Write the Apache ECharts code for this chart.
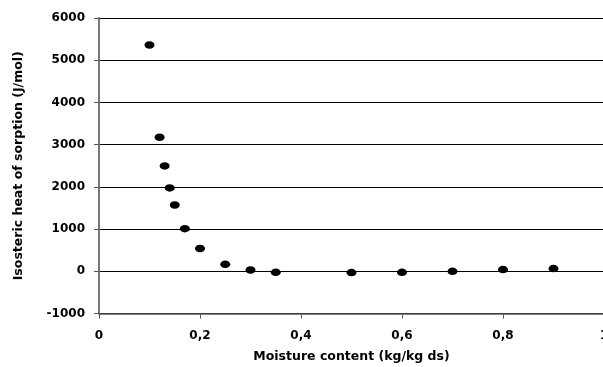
<!DOCTYPE html>
<html>
<head>
<meta charset="utf-8">
<script src="https://cdn.jsdelivr.net/npm/echarts@6/dist/echarts.min.js"></script>
<style>
html, body { margin: 0; padding: 0; background: #fff; }
#chart { width: 603px; height: 367px; }
</style>
</head>
<body>
<div id="chart"></div>
<script>
// moisture content (kg/kg ds) and isosteric heat (J/mol)
var moisture = [0.10, 0.12, 0.13, 0.14, 0.15, 0.17, 0.20, 0.25, 0.30, 0.35, 0.50, 0.60, 0.70, 0.80, 0.90];
var heat = [5360, 3175, 2495, 1975, 1570, 1010, 540, 165, 30, -25, -30, -25, 0, 40, 65];

var points = moisture.map(function (m, i) { return [m, heat[i]]; });

function font(size) {
  return {
    fontFamily: 'DejaVu Sans',
    fontWeight: 'bold',
    fontSize: size,
    color: '#000'
  };
}

var chart = echarts.init(document.getElementById('chart'));
chart.setOption({
  animation: false,
  grid: { left: 99, right: -1, top: 18, bottom: 53.5, outerBoundsMode: 'none', containLabel: false },
  xAxis: {
    type: 'value',
    min: 0,
    max: 1,
    interval: 0.2,
    name: 'Moisture content (kg/kg ds)',
    nameLocation: 'middle',
    nameGap: 37,
    nameTextStyle: font(12.5),
    axisLine: { onZero: false, lineStyle: { color: '#555', width: 1.5 } },
    axisTick: { show: true, length: 5, lineStyle: { color: '#555' } },
    axisLabel: Object.assign({
      margin: 16,
      formatter: function (v) { return String(v).replace('.', ','); }
    }, font(12)),
    splitLine: { show: false }
  },
  yAxis: {
    type: 'value',
    min: -1000,
    max: 6000,
    interval: 1000,
    name: 'Isosteric heat of sorption (J/mol)',
    nameLocation: 'middle',
    nameRotate: 90,
    nameGap: 74,
    nameTextStyle: font(12.5),
    axisLine: { show: true, lineStyle: { color: '#777', width: 2 } },
    axisTick: { show: true, length: 5, lineStyle: { color: '#555' } },
    axisLabel: Object.assign({
      margin: 14,
      formatter: function (v) { return String(v); }
    }, font(12)),
    splitLine: { show: true, lineStyle: { color: '#000', width: 1 } }
  },
  series: [{
    type: 'scatter',
    data: points,
    symbol: 'circle',
    symbolSize: [10, 7.5],
    itemStyle: { color: '#000', opacity: 1 }
  }]
});
</script>
</body>
</html>
